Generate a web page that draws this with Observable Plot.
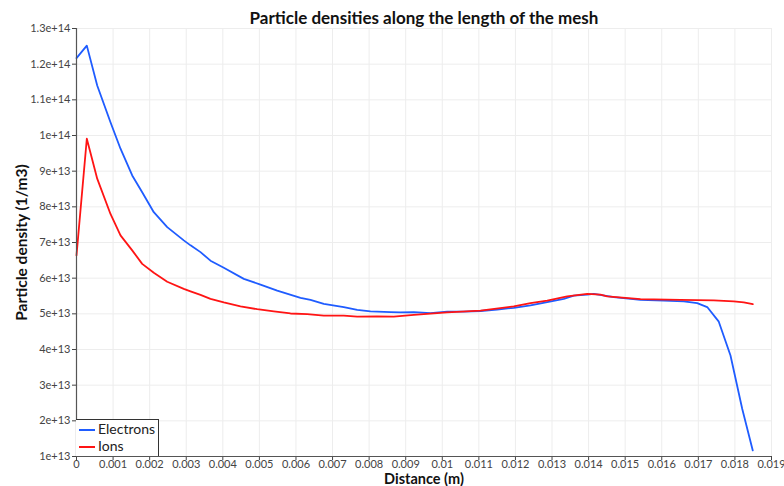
<!DOCTYPE html>
<html><head><meta charset="utf-8">
<script src="https://cdn.jsdelivr.net/npm/d3@7"></script>
<script src="https://cdn.jsdelivr.net/npm/@observablehq/plot@0.6"></script>
<style>
body{margin:0;background:#fff;font-family:Lato,"DejaVu Sans",sans-serif;}
#wrap{position:relative;width:784px;height:486px;}
#legend{position:absolute;left:76px;top:419px;width:83px;height:37px;border:1px solid #333;border-bottom:none;border-left:none;background:#fff;box-sizing:border-box;font-size:14px;color:#222;}
.item{position:absolute;left:3px;height:16px;line-height:16px;}
.item span.sw{position:absolute;left:0;top:8px;width:16px;height:2px;}
.item span.lb{position:absolute;left:19px;top:0;white-space:nowrap;}
</style></head>
<body><div id="wrap"></div>
<script>
const title = "Particle densities along the length of the mesh";
const xLabel = "Distance (m)";
const yLabel = "Particle density (1/m3)";
const seriesNames = ["Electrons", "Ions"];
const seriesColors = ["#1f5cff", "#ff1414"];

const electronX = [0, 0.000282, 0.000566, 0.000929, 0.001203, 0.001523, 0.001796, 0.002113, 0.00248, 0.002933, 0.003117, 0.00339, 0.003663, 0.004027, 0.004574, 0.00503, 0.005487, 0.006124, 0.006397, 0.006761, 0.007307, 0.007674, 0.008037, 0.008584, 0.008857, 0.009221, 0.009678, 0.010134, 0.010588, 0.011044, 0.011501, 0.011955, 0.012411, 0.012868, 0.013322, 0.013595, 0.013961, 0.014142, 0.014688, 0.015418, 0.016055, 0.016602, 0.016969, 0.017242, 0.017559, 0.017879, 0.018199, 0.018488];
const electronY = [12.17e13, 12.52e13, 11.40e13, 10.37e13, 9.63e13, 8.88e13, 8.41e13, 7.85e13, 7.43e13, 7.06e13, 6.92e13, 6.73e13, 6.49e13, 6.29e13, 5.98e13, 5.82e13, 5.65e13, 5.45e13, 5.39e13, 5.28e13, 5.19e13, 5.11e13, 5.07e13, 5.05e13, 5.04e13, 5.05e13, 5.02e13, 5.06e13, 5.06e13, 5.08e13, 5.12e13, 5.17e13, 5.24e13, 5.33e13, 5.42e13, 5.51e13, 5.54e13, 5.56e13, 5.47e13, 5.39e13, 5.37e13, 5.35e13, 5.30e13, 5.19e13, 4.78e13, 3.83e13, 2.34e13, 1.17e13];

const ionX = [0, 0.000282, 0.000566, 0.000929, 0.001203, 0.001523, 0.001796, 0.002113, 0.00248, 0.002933, 0.003117, 0.00339, 0.003663, 0.004027, 0.004483, 0.00494, 0.005394, 0.00585, 0.006307, 0.006761, 0.007307, 0.007674, 0.00822, 0.008674, 0.009221, 0.010134, 0.011044, 0.011955, 0.012411, 0.012868, 0.013415, 0.013961, 0.014325, 0.014508, 0.015418, 0.016512, 0.017422, 0.017969, 0.018242, 0.018488];
const ionY = [6.64e13, 9.91e13, 8.79e13, 7.80e13, 7.20e13, 6.78e13, 6.40e13, 6.15e13, 5.90e13, 5.70e13, 5.63e13, 5.53e13, 5.42e13, 5.32e13, 5.21e13, 5.13e13, 5.07e13, 5.01e13, 4.99e13, 4.95e13, 4.95e13, 4.92e13, 4.93e13, 4.92e13, 4.97e13, 5.04e13, 5.09e13, 5.21e13, 5.30e13, 5.37e13, 5.49e13, 5.56e13, 5.54e13, 5.49e13, 5.41e13, 5.39e13, 5.38e13, 5.35e13, 5.32e13, 5.27e13];

const xTicks = [0, 0.001, 0.002, 0.003, 0.004, 0.005, 0.006, 0.007, 0.008, 0.009, 0.01, 0.011, 0.012, 0.013, 0.014, 0.015, 0.016, 0.017, 0.018, 0.019];
const xTickLabels = ["0", "0.001", "0.002", "0.003", "0.004", "0.005", "0.006", "0.007", "0.008", "0.009", "0.01", "0.011", "0.012", "0.013", "0.014", "0.015", "0.016", "0.017", "0.018", "0.019"];
const yTicks = [1e13, 2e13, 3e13, 4e13, 5e13, 6e13, 7e13, 8e13, 9e13, 1e14, 1.1e14, 1.2e14, 1.3e14];
const yTickLabels = ["1e+13", "2e+13", "3e+13", "4e+13", "5e+13", "6e+13", "7e+13", "8e+13", "9e+13", "1e+14", "1.1e+14", "1.2e+14", "1.3e+14"];

const electrons = electronX.map((x, i) => ({x, y: electronY[i]}));
const ions = ionX.map((x, i) => ({x, y: ionY[i]}));
const xFmt = d => xTickLabels[xTicks.indexOf(d)];
const yFmt = d => yTickLabels[yTicks.indexOf(d)];

const chart = Plot.plot({
  width: 784, height: 486,
  marginLeft: 76, marginRight: 13, marginTop: 28, marginBottom: 30,
  style: {fontFamily: "Lato, 'DejaVu Sans', sans-serif", background: "#fff"},
  x: {domain: [0, 0.019], label: null},
  y: {domain: [1e13, 1.3e14], label: null},
  marks: [
    Plot.gridX(xTicks, {stroke: "#ededed", strokeOpacity: 1}),
    Plot.gridY(yTicks, {stroke: "#ededed", strokeOpacity: 1}),
    Plot.line(electrons, {x: "x", y: "y", stroke: seriesColors[0], strokeWidth: 1.8}),
    Plot.line(ions, {x: "x", y: "y", stroke: seriesColors[1], strokeWidth: 1.8}),
    Plot.axisX(xTicks, {tickFormat: xFmt, tickSize: 4, fontSize: 11, color: "#444", label: null, tickPadding: 0}),
    Plot.axisY(yTicks, {tickFormat: yFmt, tickSize: 4, fontSize: 11, color: "#444", label: null, tickPadding: 2}),
    Plot.ruleX([0], {stroke: "#555", strokeWidth: 1.2}),
    Plot.ruleY([1e13], {stroke: "#555", strokeWidth: 1.2}),
    Plot.text([title], {frameAnchor: "top", lineAnchor: "middle", dy: -10, fontSize: 17, fontWeight: "bold", fill: "#111"}),
    Plot.text([xLabel], {frameAnchor: "bottom", lineAnchor: "middle", dy: 22.5, fontSize: 14.5, fontWeight: "bold", fill: "#111"}),
    Plot.text([yLabel], {frameAnchor: "left", textAnchor: "middle", lineAnchor: "middle", dx: -54, rotate: -90, fontSize: 15.5, fontWeight: "bold", fill: "#111"})
  ]
});
const wrap = document.getElementById("wrap");
wrap.appendChild(chart);
const legend = document.createElement("div");
legend.id = "legend";
seriesNames.forEach((n, i) => {
  const it = document.createElement("div");
  it.className = "item";
  it.style.top = (1 + i * 17) + "px";
  it.innerHTML = `<span class="sw" style="background:${seriesColors[i]}"></span><span class="lb">${n}</span>`;
  legend.appendChild(it);
});
wrap.appendChild(legend);
</script></body></html>
